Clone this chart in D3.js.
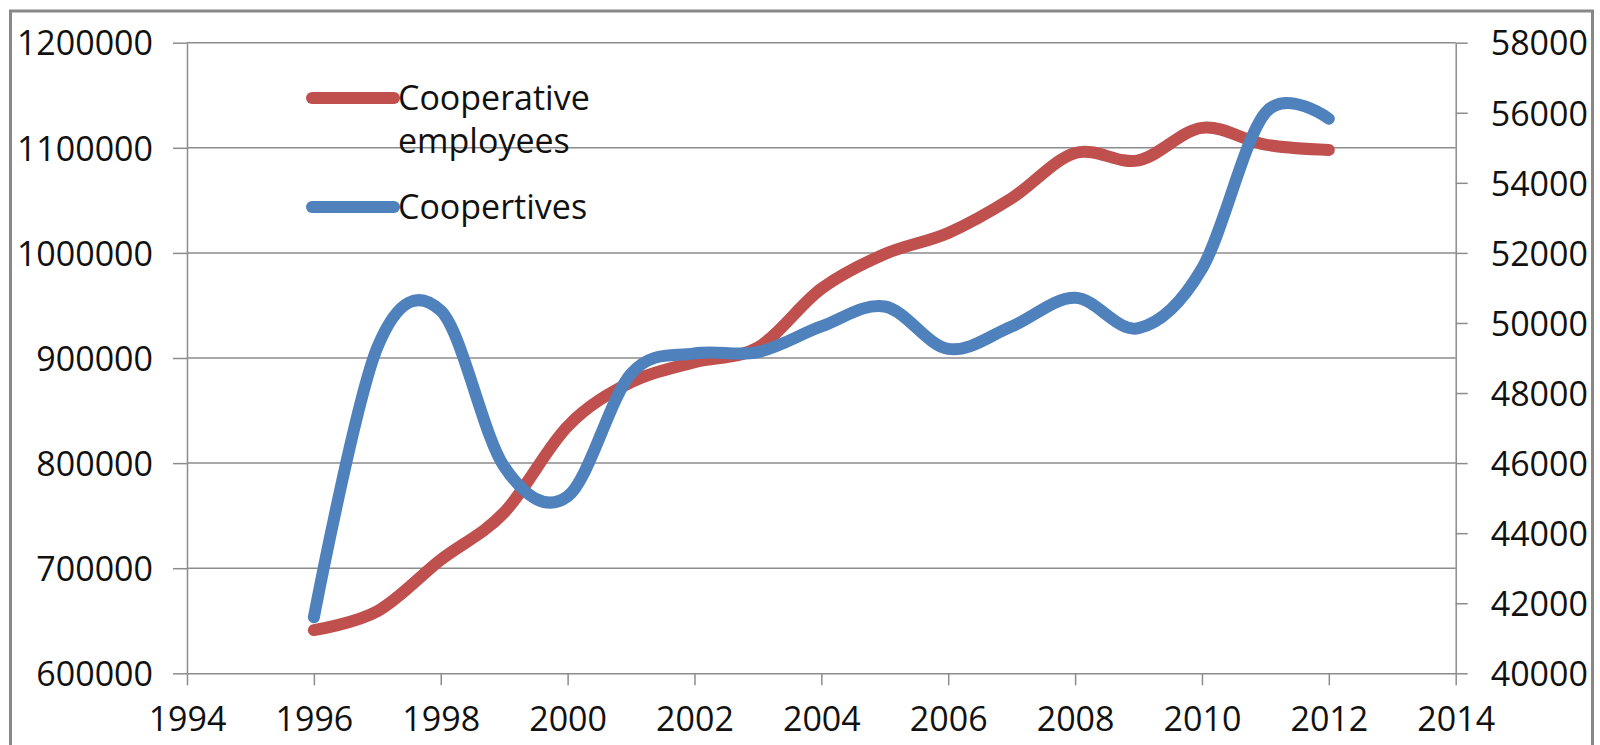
<!DOCTYPE html>
<html>
<head>
<meta charset="utf-8">
<script src="https://cdn.jsdelivr.net/npm/d3@7"></script>
<style>
    body { margin: 0; background: #fff; }
    svg text { font-family: "Open Sans", sans-serif; fill: #111; }
</style>
</head>
<body>
<div id="chart"></div>
<script>
// data
const years = [1996, 1997, 1998, 1999, 2000, 2001, 2002, 2003, 2004, 2005, 2006, 2007, 2008, 2009, 2010, 2011, 2012];
const employees = [641000, 659000, 708000, 753000, 835000, 877000, 896000, 910000, 966000, 999000, 1019000, 1052000, 1095000, 1088000, 1119000, 1103000, 1098000];
const cooperatives = [41600, 49300, 50350, 45900, 45050, 48550, 49130, 49170, 49900, 50470, 49260, 49900, 50720, 49850, 51550, 56000, 55830];
const leftTicks = [600000, 700000, 800000, 900000, 1000000, 1100000, 1200000];
const rightTicks = [40000, 42000, 44000, 46000, 48000, 50000, 52000, 54000, 56000, 58000];
const xTicks = [1994, 1996, 1998, 2000, 2002, 2004, 2006, 2008, 2010, 2012, 2014];
const seriesNames = ["Cooperative employees", "Coopertives"];
const colors = ["#c0504d", "#4f81bd"];

const width = 1600, height = 745;
const plotLeft = 187, plotRight = 1455.7, plotTop = 42.7, plotBottom = 673.3;
const axisColor = "#8c8c8c";

const svg = d3.select("#chart").append("svg")
    .attr("width", width)
    .attr("height", height);

svg.append("rect")
    .attr("x", 10.5).attr("y", 11)
    .attr("width", 1582).attr("height", 760)
    .attr("fill", "#fff")
    .attr("stroke", "#888")
    .attr("stroke-width", 3);

const x = d3.scaleLinear().domain([1994, 2014]).range([plotLeft, plotRight]);
const yL = d3.scaleLinear().domain([600000, 1200000]).range([plotBottom, plotTop]);
const yR = d3.scaleLinear().domain([40000, 58000]).range([plotBottom, plotTop]);

// gridlines from the left axis
svg.append("g").selectAll("line")
    .data(leftTicks.slice(1))
    .enter().append("line")
    .attr("x1", plotLeft).attr("x2", plotRight)
    .attr("y1", d => yL(d)).attr("y2", d => yL(d))
    .attr("stroke", axisColor)
    .attr("stroke-width", 1.5);

function styleAxis(g) {
    g.selectAll("path, line").attr("stroke", axisColor).attr("stroke-width", 1.5);
    g.selectAll("text").attr("font-size", 34).attr("fill", "#111");
}

svg.append("g")
    .attr("transform", `translate(${plotLeft},0)`)
    .call(d3.axisLeft(yL).tickValues(leftTicks).tickFormat(d3.format("d")).tickSize(14).tickSizeOuter(0).tickPadding(20))
    .call(styleAxis)
    .call(g => g.selectAll("text").attr("dy", "0.36em"));

svg.append("g")
    .attr("transform", `translate(${plotRight},0)`)
    .call(d3.axisRight(yR).tickValues(rightTicks).tickFormat(d3.format("d")).tickSize(12).tickSizeOuter(0).tickPadding(23))
    .call(styleAxis)
    .call(g => g.selectAll("text").attr("dy", "0.36em"));

svg.append("g")
    .attr("transform", `translate(0,${plotBottom})`)
    .call(d3.axisBottom(x).tickValues(xTicks).tickFormat(d3.format("d")).tickSize(12).tickSizeOuter(0))
    .call(styleAxis)
    .call(g => g.selectAll("text").attr("y", 58).attr("dy", 0));

// smoothed lines
const curve = d3.curveCardinal.tension(0);
const lineL = d3.line().x((d, i) => x(years[i])).y(d => yL(d)).curve(curve);
const lineR = d3.line().x((d, i) => x(years[i])).y(d => yR(d)).curve(curve);

svg.append("path")
    .attr("d", lineL(employees))
    .attr("fill", "none")
    .attr("stroke", colors[0])
    .attr("stroke-width", 12)
    .attr("stroke-linecap", "round")
    .attr("stroke-linejoin", "round");

svg.append("path")
    .attr("d", lineR(cooperatives))
    .attr("fill", "none")
    .attr("stroke", colors[1])
    .attr("stroke-width", 12)
    .attr("stroke-linecap", "round")
    .attr("stroke-linejoin", "round");

// legend
const legend = svg.append("g");
const legendRows = [
    { y: 98, lines: ["Cooperative", "employees"], color: colors[0] },
    { y: 207, lines: ["Coopertives"], color: colors[1] }
];
legendRows.forEach(r => {
    legend.append("line")
        .attr("x1", 312).attr("x2", 394)
        .attr("y1", r.y).attr("y2", r.y)
        .attr("stroke", r.color)
        .attr("stroke-width", 12)
        .attr("stroke-linecap", "round");
    const t = legend.append("text")
        .attr("x", 398)
        .attr("y", r.y + 12)
        .attr("font-size", 34);
    r.lines.forEach((s, i) => {
        t.append("tspan").attr("x", 398).attr("dy", i === 0 ? 0 : 43).text(s);
    });
});
</script>
</body>
</html>
